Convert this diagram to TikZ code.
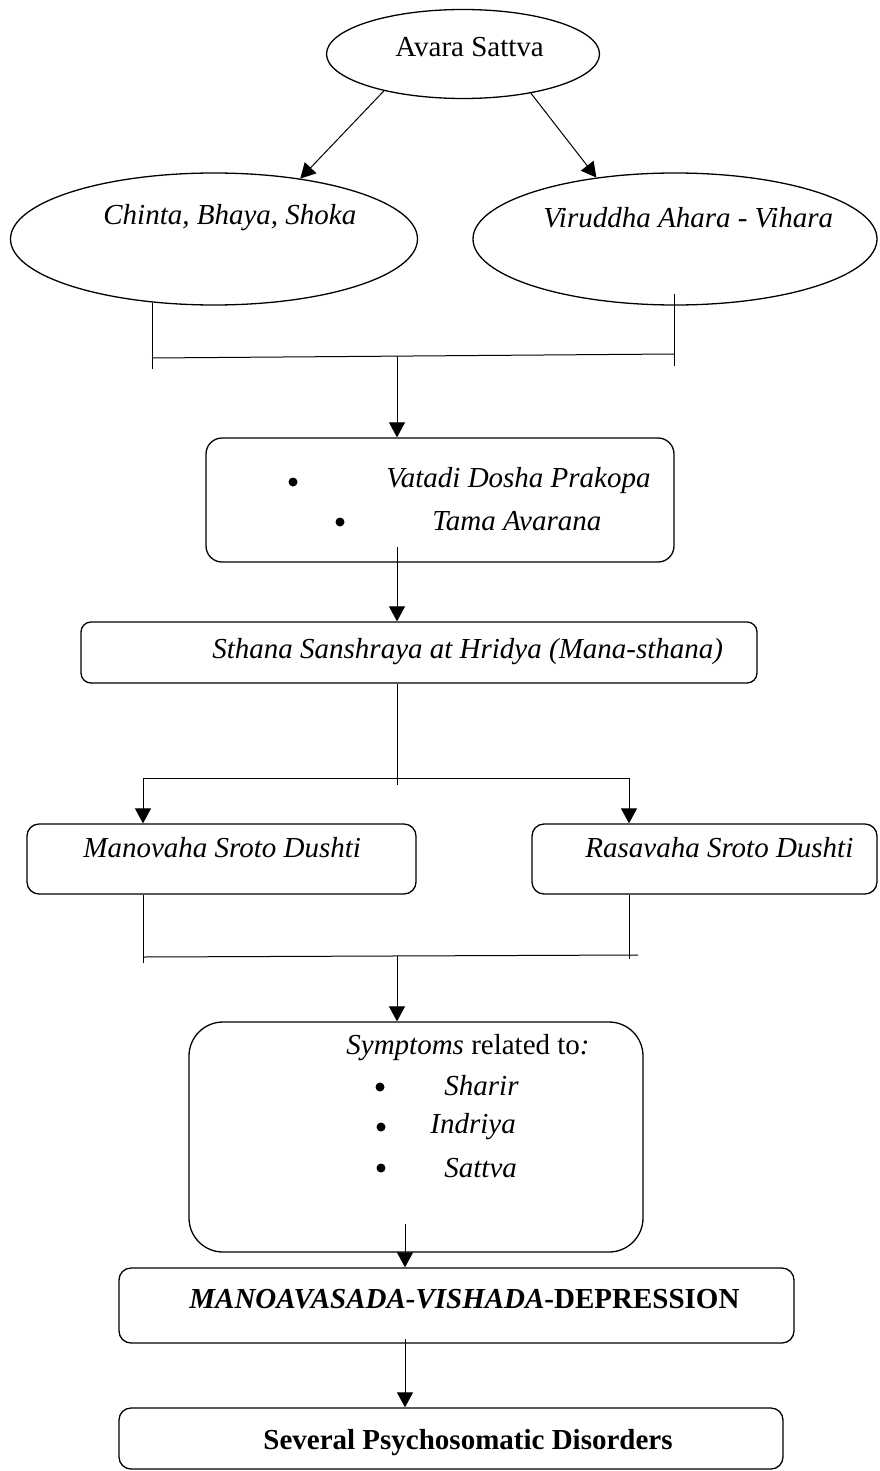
\documentclass[tikz,border=0pt]{standalone}
\usepackage{fontspec}
\setmainfont{Liberation Serif}
\usetikzlibrary{shapes.geometric,arrows.meta}

\begin{document}
\begin{tikzpicture}[x=0.5pt,y=-0.5pt,
  font=\fontsize{14.5}{17}\selectfont,
  oval/.style={draw,ellipse,line width=0.65pt,inner sep=0pt},
  box/.style={draw,rectangle,line width=0.65pt,inner sep=0pt},
  lbl/.style={anchor=west,inner sep=0pt},
  arr/.style={-{Triangle[length=7.5pt,width=8pt]},line width=0.5pt},
  link/.style={line width=0.5pt}]
  \useasboundingbox (0,0) rectangle (879,1471);
  % shapes
  \node[oval,minimum width=136.5pt,minimum height=44.5pt] (avara) at (463,54) {};
  \node[oval,minimum width=203.5pt,minimum height=66pt] (chinta) at (214,239) {};
  \node[oval,minimum width=202pt,minimum height=66pt] (viruddha) at (675,239) {};
  \node[box,rounded corners=8pt,minimum width=234pt,minimum height=62pt] (dosha) at (440,500) {};
  \node[box,rounded corners=5pt,minimum width=338pt,minimum height=30.5pt] (sthana) at (419,652.5) {};
  \node[box,rounded corners=6pt,minimum width=194.5pt,minimum height=35pt] (manovaha) at (221.5,859) {};
  \node[box,rounded corners=6pt,minimum width=172.5pt,minimum height=35pt] (rasavaha) at (704.5,859) {};
  \node[box,rounded corners=17pt,minimum width=227pt,minimum height=115pt] (symptoms) at (416,1137) {};
  \node[box,rounded corners=6pt,minimum width=337.5pt,minimum height=37.5pt] (depression) at (456.5,1305.5) {};
  \node[box,rounded corners=6pt,minimum width=332pt,minimum height=30.5pt] (several) at (451,1438.5) {};
  % texts
  \node[lbl] (avaratxt) at (395,47) {Avara Sattva};
  \node[lbl] (chintatxt) at (103,218) {\textit{Chinta, Bhaya, Shoka}};
  \node[lbl] (viruddhatxt) at (543,218) {\textit{Viruddha Ahara - Vihara}};
  \node[lbl] (doshatxt) at (386,481) {\textit{Vatadi Dosha Prakopa}};
  \node[lbl] (tamatxt) at (432,521) {\textit{Tama Avarana}};
  \node[lbl] (sthanatxt) at (212,652) {\textit{Sthana Sanshraya at Hridya (Mana-sthana)}};
  \node[lbl] (manovahatxt) at (83,848) {\textit{Manovaha Sroto Dushti}};
  \node[lbl] (rasavahatxt) at (585,848) {\textit{Rasavaha Sroto Dushti}};
  \node[lbl] (symptomstxt) at (346,1048) {\textit{Symptoms} related to\textit{:}};
  \node[lbl] (sharirtxt) at (444,1086) {\textit{Sharir}};
  \node[lbl] (indriyatxt) at (430,1127) {\textit{Indriya}};
  \node[lbl] (sattvatxt) at (444,1168) {\textit{Sattva}};
  \node[lbl] (depressiontxt) at (189,1299) {\textbf{\textit{MANOAVASADA-VISHADA}-DEPRESSION}};
  \node[lbl] (severaltxt) at (263,1443) {\textbf{Several Psychosomatic Disorders}};
  \fill (293,482) circle(4.5); \fill (340,522) circle(4.5);
  \fill (380,1087) circle(4.5); \fill (381,1127) circle(4.5); \fill (381,1168) circle(4.5);
  % joints
  \coordinate (b1lt) at (152,303); \coordinate (b1lb) at (152,369);
  \coordinate (b1rt) at (674,294); \coordinate (b1rb) at (674,366);
  \coordinate (b1l) at (152,358); \coordinate (b1r) at (674,354);
  \coordinate (b1m) at (397,356);
  \coordinate (d1) at (397,547); \coordinate (s1) at (397,785);
  \coordinate (s1l) at (143,778); \coordinate (s1r) at (629,778);
  \coordinate (b2lb) at (143,963); \coordinate (b2rb) at (629,959);
  \coordinate (b2l) at (143,957); \coordinate (b2r) at (638,955);
  \coordinate (b2m) at (397,956);
  \coordinate (d2) at (405,1224); \coordinate (d3) at (405,1339);
  % connectors
  \draw[arr] (avara.205) -- (chinta.35);
  \draw[arr] (avara.330) -- (viruddha.142);
  \draw[link] (b1lt) -- (b1lb);
  \draw[link] (b1rt) -- (b1rb);
  \draw[link] (b1l) -- (b1r);
  \draw[arr] (b1m) -- (b1m |- dosha.north);
  \draw[arr] (d1) -- (d1 |- sthana.north);
  \draw[link] (d1 |- sthana.south) -- (s1);
  \draw[link] (s1l) -- (s1r);
  \draw[arr] (s1l) -- (s1l |- manovaha.north);
  \draw[arr] (s1r) -- (s1r |- rasavaha.north);
  \draw[link] (b2lb |- manovaha.south) -- (b2lb);
  \draw[link] (b2rb |- rasavaha.south) -- (b2rb);
  \draw[link] (b2l) -- (b2r);
  \draw[arr] (b2m) -- (b2m |- symptoms.north);
  \draw[arr] (d2) -- (d2 |- depression.north);
  \draw[arr] (d3) -- (d3 |- several.north);
\end{tikzpicture}
\end{document}
